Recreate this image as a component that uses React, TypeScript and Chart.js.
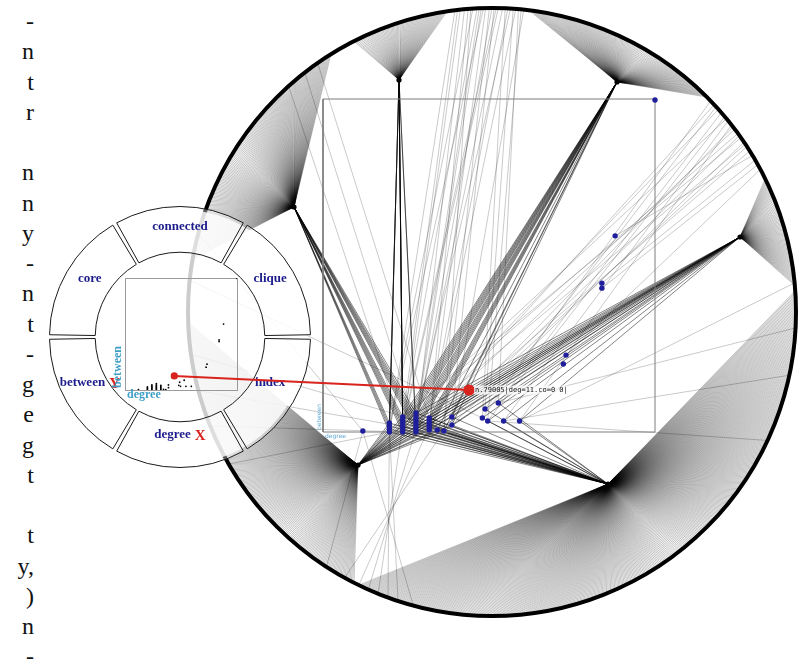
import React, { useEffect, useRef } from "react";
import { Chart, registerables } from "chart.js";

Chart.register(...registerables);

const PAGE_W = 807;
const PAGE_H = 661;

// right-hand ends of the justified paragraph lines, cut off by the page edge
const marginLetters = ["-", "n", "t", "r", "", "n", "n", "y", "-", "n", "t", "-", "g", "e", "g", "t", "", "t", "y,", ")", "n", "-"];

// outer node ring of the network layout (layout units)
const ringCenterX = 492;
const ringCenterY = 312;
const ringRadius = 304;

// hub nodes and the arc of ring nodes each hub fans out to
const hubX = [399, 617, 294, 740, 358, 608];
const hubY = [80, 82, 207, 237, 465, 484];
const fanStartDeg = [-117, -83, -170, -26, 117, -4];
const fanEndDeg = [-98.5, -45, -122, -5, 178, 116];
const fanLineCount = [70, 140, 170, 80, 220, 420];
// range of scatter nodes each hub is linked to
const bundleFrom = [1, 5, 1, 11, 1, 1];
const bundleTo = [12, 26, 17, 32, 26, 32];

// scatter view: degree vs betweenness of the graph nodes
const nodeDegree = [3, 5, 5, 5, 5, 6, 6, 6, 6, 6, 6, 7, 7, 7, 7, 7, 7, 7, 8, 8, 8, 8, 8, 8.6, 9.1, 9.7, 9.7, 12, 12.2, 13.2, 12.4, 13.6, 14.8, 25, 22, 21, 21, 18.3, 18.1];
const nodeBetween = [0.003, 0, 0.009, 0.018, 0.027, 0, 0.009, 0.018, 0.027, 0.036, 0.045, 0, 0.009, 0.018, 0.027, 0.036, 0.045, 0.057, 0.006, 0.015, 0.024, 0.033, 0.042, 0.006, 0.003, 0.021, 0.045, 0.042, 0.069, 0.087, 0.033, 0.033, 0.033, 0.997, 0.589, 0.447, 0.432, 0.231, 0.204];
const degreeMax = 25;
const betweenMax = 1;
const xTitle = "degree";
const yTitle = "between";

const selectedDegree = 11;
const selectedBetween = 0.126;
const selectedLabel = "n.79005|deg=11.co=0 0|";

// single edges from ring nodes (angle on the ring) to scatter nodes
const crossAngleDeg = [
  -97, -96.5, -96, -95.2, -94.5, -94, -93.6, -92.8, -92.4, -92, -91.6, -91.2, -90.5, -90, -89.6, -89.2, -88.8, -88, -87.5, -87, -86.5, -86, -85.5, -85, -84.5, -84,
  -44, -43, -42.5, -41.8, -41, -40, -39.5, -39, -38, -37.5, -37, -36, -35.5, -35, -34, -33.5, -33, -32, -31, -30, -29, -28,
  -5.5, 3, 12, 25,
  105, 108, 110, 112, 114, 116, 119, 123,
  150, 158, 165, 172, 186, 195,
  -132, -128, -125,
];
const crossTarget = [
  1, 9, 5, 11, 18, 24, 3, 8, 16, 14, 2, 20, 24, 12, 26, 7, 6, 13, 27, 21, 15, 28, 19, 29, 30, 25,
  27, 22, 28, 14, 29, 30, 9, 31, 32, 23, 22, 17, 26, 10, 25, 5, 26, 19, 34, 35, 36, 37,
  32, 29, 31, 30,
  0, 2, 4, 7, 12, 19, 24, 0,
  1, 5, 12, 20, 27, 0,
  6, 13, 22,
];

// circular menu
const menuLabels = ["index", "degree", "between", "core", "connected", "clique"];
const menuAxisMark = ["", "X", "Y", "", "", ""];
const menuWeights = [1, 1, 1, 1, 1, 1];

// placement (style)
const SQUARE = { left: 323, right: 655, top: 99, bottom: 432 };
const MENU = { cx: 180, cy: 337, r: 127, border: 1, spacing: 7 };
const MINI = { left: 125, right: 237, top: 278, bottom: 390 };
const MINI_CANVAS = { left: 100, top: 260, w: 150, h: 150 };
const TEAL = "#3f9fc6";
const NAVY = "#1c1c8c";
const RED = "#d9231d";

const mainTitlesPlugin = {
  id: "mainTitles",
  afterDatasetsDraw(chart: any) {
    const { ctx } = chart;
    const left = chart.scales.xd.getPixelForValue(0);
    const bottom = chart.scales.yb.getPixelForValue(0);
    ctx.save();
    ctx.fillStyle = "#62aad2";
    ctx.font = '6px "DejaVu Sans"';
    ctx.textBaseline = "top";
    ctx.textAlign = "left";
    ctx.fillText(xTitle, left + 2, bottom + 1);
    ctx.translate(left - 4, bottom - 2);
    ctx.rotate(-Math.PI / 2);
    ctx.textBaseline = "middle";
    ctx.fillText(yTitle, 0, 0);
    ctx.restore();
  },
};

const menuDiskPlugin = {
  id: "menuDisk",
  beforeDatasetsDraw(chart: any) {
    const arc = chart.getDatasetMeta(0).data[0];
    if (!arc) return;
    const p = arc.getProps(["x", "y", "outerRadius"], true);
    const { ctx } = chart;
    ctx.save();
    ctx.beginPath();
    ctx.arc(p.x, p.y, p.outerRadius + 0.5, 0, Math.PI * 2);
    ctx.fillStyle = "rgba(255,255,255,0.8)";
    ctx.fill();
    ctx.restore();
  },
};

const menuLabelPlugin = {
  id: "menuLabels",
  afterDatasetsDraw(chart: any) {
    const { ctx } = chart;
    const meta = chart.getDatasetMeta(0);
    ctx.save();
    ctx.textBaseline = "middle";
    ctx.textAlign = "left";
    meta.data.forEach((arc: any, i: number) => {
      const p = arc.getProps(["x", "y", "startAngle", "endAngle", "innerRadius", "outerRadius"], true);
      const mid = (p.startAngle + p.endAngle) / 2;
      const r = (p.innerRadius + p.outerRadius) / 2;
      const tx = p.x + r * Math.cos(mid);
      const ty = p.y + r * Math.sin(mid) - 6;
      ctx.font = 'bold 13px "Liberation Serif"';
      const w1 = ctx.measureText(menuLabels[i]).width;
      let w2 = 0;
      if (menuAxisMark[i]) {
        ctx.font = 'bold 15px "Liberation Serif"';
        w2 = ctx.measureText(menuAxisMark[i]).width + 4;
      }
      const x0 = tx - (w1 + w2) / 2;
      ctx.font = 'bold 13px "Liberation Serif"';
      ctx.fillStyle = NAVY;
      ctx.fillText(menuLabels[i], x0, ty);
      if (menuAxisMark[i]) {
        ctx.font = 'bold 15px "Liberation Serif"';
        ctx.fillStyle = RED;
        ctx.fillText(menuAxisMark[i], x0 + w1 + 4, ty + 1);
      }
    });
    ctx.restore();
  },
};

const miniFramePlugin = {
  id: "miniFrame",
  beforeDatasetsDraw(chart: any) {
    const { ctx, chartArea: a } = chart;
    ctx.save();
    ctx.strokeStyle = "#9a9a9a";
    ctx.lineWidth = 1;
    ctx.strokeRect(a.left + 0.5, a.top + 0.5, a.right - a.left, a.bottom - a.top);
    ctx.restore();
  },
  afterDatasetsDraw(chart: any) {
    const { ctx, chartArea: a } = chart;
    ctx.save();
    ctx.fillStyle = TEAL;
    ctx.font = 'bold 12px "Liberation Serif"';
    ctx.textAlign = "left";
    ctx.textBaseline = "top";
    ctx.fillText(xTitle, a.left + 2, a.bottom - 1);
    ctx.translate(a.left - 7, a.bottom - 2);
    ctx.rotate(-Math.PI / 2);
    ctx.textBaseline = "middle";
    ctx.fillText(yTitle, 0, 0);
    ctx.restore();
  },
};

const overlayLabelPlugin = {
  id: "overlayLabel",
  afterDatasetsDraw(chart: any) {
    const ds = chart.data.datasets[1];
    if (!ds || !ds.data.length) return;
    const pt = ds.data[0];
    const x = chart.scales.x.getPixelForValue(pt.x) + 6;
    const y = chart.scales.y.getPixelForValue(pt.y);
    const { ctx } = chart;
    ctx.save();
    ctx.font = '7px "DejaVu Sans Mono"';
    const w = ctx.measureText(selectedLabel).width;
    ctx.fillStyle = "rgba(255,255,255,0.75)";
    ctx.fillRect(x - 1, y - 4.5, w + 2, 9);
    ctx.fillStyle = "#111";
    ctx.textBaseline = "middle";
    ctx.fillText(selectedLabel, x, y);
    ctx.restore();
  },
};

const baseOptions = {
  animation: false as const,
  responsive: false,
  maintainAspectRatio: false,
  events: [] as any[],
  plugins: { legend: { display: false }, tooltip: { enabled: false } },
};

export default function App() {
  const mainRef = useRef<HTMLCanvasElement>(null);
  const menuRef = useRef<HTMLCanvasElement>(null);
  const miniRef = useRef<HTMLCanvasElement>(null);
  const overlayRef = useRef<HTMLCanvasElement>(null);

  const menuSize = 2 * MENU.r + MENU.border + MENU.spacing;

  useEffect(() => {
    const pxPerDeg = (SQUARE.right - SQUARE.left) / degreeMax;
    const pxPerBet = (SQUARE.bottom - SQUARE.top) / betweenMax;

    const main = new Chart(mainRef.current as HTMLCanvasElement, {
      type: "scatter",
      data: {
        datasets: [
          {
            label: "ring",
            data: [{ x: ringCenterX, y: ringCenterY }],
            xAxisID: "x",
            yAxisID: "y",
            pointRadius: ringRadius,
            pointBorderWidth: 4,
            pointBorderColor: "#000",
            pointBackgroundColor: "rgba(0,0,0,0)",
            clip: false,
            order: 3,
          },
          {
            label: "hubs",
            data: hubX.map((x, i) => ({ x, y: hubY[i] })),
            xAxisID: "x",
            yAxisID: "y",
            pointRadius: 2.6,
            pointBorderWidth: 0,
            pointBackgroundColor: "#000",
            order: 2,
          },
          {
            label: "frame",
            data: [
              { x: 0, y: 0 },
              { x: degreeMax, y: 0 },
              { x: degreeMax, y: betweenMax },
              { x: 0, y: betweenMax },
              { x: 0, y: 0 },
            ],
            xAxisID: "xd",
            yAxisID: "yb",
            showLine: true,
            pointRadius: 0,
            borderColor: "#7c7c7c",
            borderWidth: 1,
            order: 4,
          },
          {
            label: "nodes",
            data: nodeDegree.map((d, i) => ({ x: d, y: nodeBetween[i] })),
            xAxisID: "xd",
            yAxisID: "yb",
            pointRadius: 2.7,
            pointBorderWidth: 0,
            pointBackgroundColor: "#1f1f9c",
            order: 1,
          },
        ] as any,
      },
      options: {
        ...baseOptions,
        layout: { padding: 0, autoPadding: false },
        scales: {
          x: { type: "linear", axis: "x", min: 0, max: PAGE_W, display: false },
          y: { type: "linear", axis: "y", min: 0, max: PAGE_H, reverse: true, display: false },
          xd: { type: "linear", axis: "x", min: -SQUARE.left / pxPerDeg, max: (PAGE_W - SQUARE.left) / pxPerDeg, display: false },
          yb: { type: "linear", axis: "y", min: -(PAGE_H - SQUARE.bottom) / pxPerBet, max: SQUARE.bottom / pxPerBet, display: false },
        },
      } as any,
      plugins: [mainTitlesPlugin],
    });

    const sx: any = main.scales.x;
    const sy: any = main.scales.y;
    const sxd: any = main.scales.xd;
    const syb: any = main.scales.yb;
    const nodeAt = (i: number) => ({
      x: sx.getValueForPixel(sxd.getPixelForValue(nodeDegree[i])),
      y: sy.getValueForPixel(syb.getPixelForValue(nodeBetween[i])),
    });
    const ringAt = (deg: number) => {
      const a = (deg * Math.PI) / 180;
      return { x: ringCenterX + ringRadius * Math.cos(a), y: ringCenterY + ringRadius * Math.sin(a) };
    };
    const gap = () => ({ x: NaN, y: NaN });

    const extra: any[] = [];
    hubX.forEach((hx, h) => {
      const data: any[] = [];
      const n = fanLineCount[h];
      for (let k = 0; k < n; k++) {
        const deg = fanStartDeg[h] + ((fanEndDeg[h] - fanStartDeg[h]) * k) / (n - 1);
        data.push({ x: hx, y: hubY[h] }, ringAt(deg), gap());
      }
      extra.push({
        label: "fan" + h,
        data,
        xAxisID: "x",
        yAxisID: "y",
        showLine: true,
        pointRadius: 0,
        borderWidth: 0.42,
        borderColor: "rgba(0,0,0,0.56)",
        order: 10,
      });
    });
    const crossData: any[] = [];
    crossAngleDeg.forEach((deg, i) => {
      crossData.push(ringAt(deg), nodeAt(crossTarget[i]), gap());
    });
    extra.push({
      label: "cross",
      data: crossData,
      xAxisID: "x",
      yAxisID: "y",
      showLine: true,
      pointRadius: 0,
      borderWidth: 0.6,
      borderColor: "rgba(0,0,0,0.36)",
      order: 8,
    });
    hubX.forEach((hx, h) => {
      const data: any[] = [];
      for (let i = bundleFrom[h]; i <= bundleTo[h]; i++) {
        data.push({ x: hx, y: hubY[h] }, nodeAt(i), gap());
      }
      extra.push({
        label: "bundle" + h,
        data,
        xAxisID: "x",
        yAxisID: "y",
        showLine: true,
        pointRadius: 0,
        borderWidth: 0.6,
        borderColor: "rgba(0,0,0,0.82)",
        order: 6,
      });
    });
    main.data.datasets.push(...extra);
    main.update("none");

    const menu = new Chart(menuRef.current as HTMLCanvasElement, {
      type: "doughnut",
      data: {
        labels: menuLabels,
        datasets: [
          {
            data: menuWeights,
            backgroundColor: "rgba(255,255,255,0.35)",
            borderColor: "#1a1a1a",
            borderWidth: MENU.border,
            spacing: MENU.spacing,
          },
        ],
      } as any,
      options: {
        ...baseOptions,
        rotation: 90,
        cutout: "64%",
        layout: { padding: 0, autoPadding: false },
      } as any,
      plugins: [menuDiskPlugin, menuLabelPlugin],
    });

    const mini = new Chart(miniRef.current as HTMLCanvasElement, {
      type: "scatter",
      data: {
        datasets: [
          {
            data: [{ x: selectedDegree, y: selectedBetween }],
            pointRadius: 3.6,
            pointBorderWidth: 0,
            pointBackgroundColor: RED,
            order: 1,
          },
          {
            data: nodeDegree.map((d, i) => ({ x: d, y: nodeBetween[i] })),
            pointRadius: 0.9,
            pointBorderWidth: 0,
            pointBackgroundColor: "#000",
            order: 2,
          },
        ],
      } as any,
      options: {
        ...baseOptions,
        layout: {
          autoPadding: false,
          padding: {
            left: MINI.left - MINI_CANVAS.left,
            top: MINI.top - MINI_CANVAS.top,
            right: MINI_CANVAS.left + MINI_CANVAS.w - MINI.right,
            bottom: MINI_CANVAS.top + MINI_CANVAS.h - MINI.bottom,
          },
        },
        scales: {
          x: { type: "linear", min: 0, max: degreeMax, display: false },
          y: { type: "linear", min: 0, max: betweenMax, display: false },
        },
      } as any,
      plugins: [miniFramePlugin],
    });

    // red link from the selected node in the menu preview to the same node in the big view
    const fromX = MINI_CANVAS.left + (mini.scales.x as any).getPixelForValue(selectedDegree);
    const fromY = MINI_CANVAS.top + (mini.scales.y as any).getPixelForValue(selectedBetween);
    const toX = sxd.getPixelForValue(selectedDegree);
    const toY = syb.getPixelForValue(selectedBetween);

    const overlay = new Chart(overlayRef.current as HTMLCanvasElement, {
      type: "scatter",
      data: {
        datasets: [
          {
            data: [
              { x: fromX, y: fromY },
              { x: toX, y: toY },
            ],
            showLine: true,
            pointRadius: 0,
            borderColor: RED,
            borderWidth: 2,
            order: 2,
          },
          {
            data: [{ x: toX, y: toY }],
            pointRadius: 5.6,
            pointBorderWidth: 0,
            pointBackgroundColor: RED,
            order: 1,
          },
        ],
      } as any,
      options: {
        ...baseOptions,
        layout: { padding: 0, autoPadding: false },
        scales: {
          x: { type: "linear", min: 0, max: PAGE_W, display: false },
          y: { type: "linear", min: 0, max: PAGE_H, reverse: true, display: false },
        },
      } as any,
      plugins: [overlayLabelPlugin],
    });

    return () => {
      overlay.destroy();
      mini.destroy();
      menu.destroy();
      main.destroy();
    };
  }, []);

  return (
    <div
      style={{
        position: "fixed",
        left: 0,
        top: 0,
        width: PAGE_W,
        height: PAGE_H,
        overflow: "hidden",
        background: "#fff",
      }}
    >
      {marginLetters.map((ch, i) => (
        <div
          key={i}
          style={{
            position: "absolute",
            left: -60,
            width: 94,
            top: 6 + i * 30.25,
            textAlign: "right",
            fontFamily: '"Liberation Serif", serif',
            fontSize: 24,
            lineHeight: "30px",
            color: "#111",
            whiteSpace: "nowrap",
          }}
        >
          {ch}
        </div>
      ))}
      <canvas ref={mainRef} width={PAGE_W} height={PAGE_H} style={{ position: "absolute", left: 0, top: 0 }} />
      <canvas
        ref={menuRef}
        width={menuSize}
        height={menuSize}
        style={{ position: "absolute", left: MENU.cx - menuSize / 2, top: MENU.cy - menuSize / 2 }}
      />
      <canvas
        ref={miniRef}
        width={MINI_CANVAS.w}
        height={MINI_CANVAS.h}
        style={{ position: "absolute", left: MINI_CANVAS.left, top: MINI_CANVAS.top }}
      />
      <canvas ref={overlayRef} width={PAGE_W} height={PAGE_H} style={{ position: "absolute", left: 0, top: 0 }} />
    </div>
  );
}
